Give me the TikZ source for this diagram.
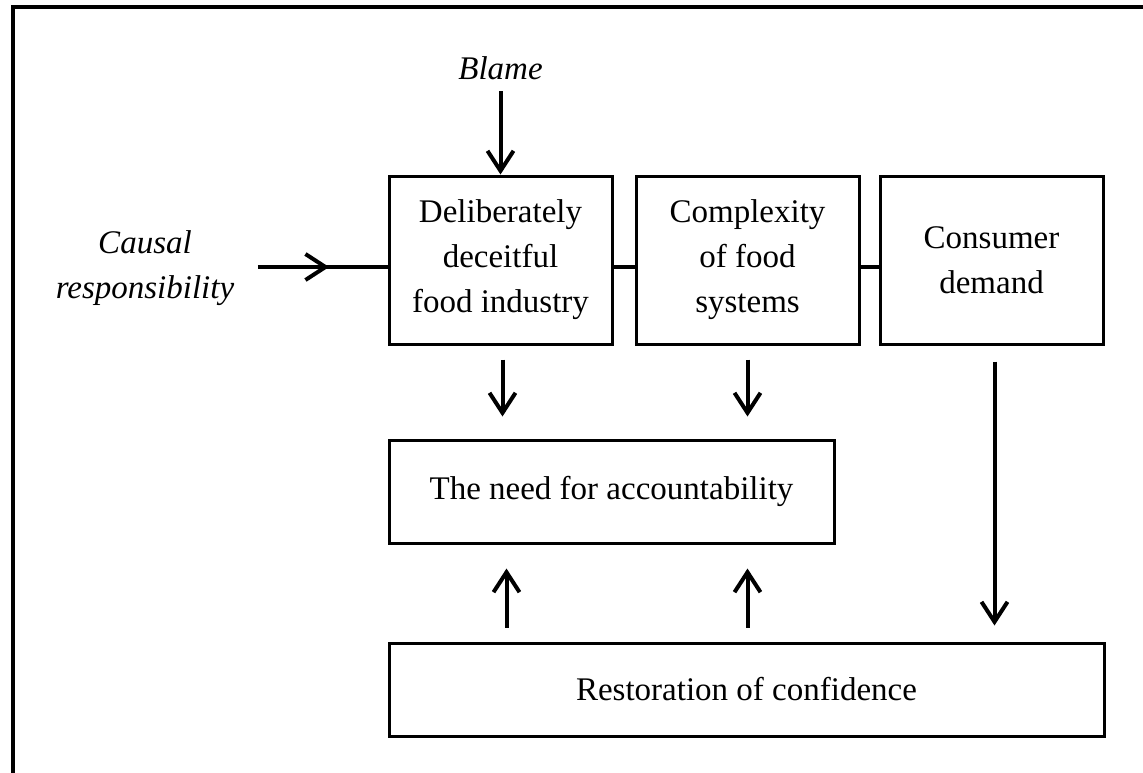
\documentclass[tikz,border=0pt]{standalone}
\usepackage{fontspec}
\setmainfont{Liberation Serif}
\usetikzlibrary{arrows.meta,decorations.markings}

\begin{document}
\begin{tikzpicture}[x=1pt,y=-1pt,
    stage/.style={draw,line width=3pt,align=center,font=\fontsize{33}{45}\selectfont},
    lbl/.style={align=center,font=\fontsize{33}{45}\selectfont\itshape},
    arr/.style={line width=4pt,-{Straight Barb[length=20pt,width=26pt]}}]
      \useasboundingbox (0,0) rectangle (1143,772);
      \draw[line width=4pt] (13,7) rectangle (1175,805);
      \node[stage,minimum width=223pt,minimum height=168pt] (deceit) at (500.5,260) {Deliberately\\deceitful\\food industry};
      \node[stage,minimum width=223pt,minimum height=168pt] (complex) at (747.5,260) {Complexity\\of food\\systems};
      \node[stage,minimum width=223pt,minimum height=168pt] (consumer) at (991.5,260) {Consumer\\demand};
      \node[stage,minimum width=445pt,minimum height=103pt] (need) at (611.5,491.5) {The need for accountability};
      \node[stage,minimum width=715pt,minimum height=93pt] (restore) at (746.5,689.5) {Restoration of confidence};
      \node[lbl] (blame) at (500.5,68) {Blame};
      \node[lbl] (causal) at (145,268) {Causal\\responsibility};
      \draw[arr,shorten <=8pt] (blame.south) -- (deceit.north);
      \draw[line width=4pt,postaction={decorate},
        decoration={markings,mark=at position 0.55 with {\arrow{Straight Barb[length=20pt,width=26pt]}}}]
        ([xshift=20pt,yshift=1pt]causal.east) -- ([yshift=-7pt]deceit.west);
      \draw[line width=4pt] ([yshift=-7pt]deceit.east) -- ([yshift=-7pt]complex.west);
      \draw[line width=4pt] ([yshift=-7pt]complex.east) -- ([yshift=-7pt]consumer.west);
      \draw[arr,shorten <=14pt,shorten >=22pt] ([xshift=2pt]deceit.south) -- ([xshift=2pt]deceit.south |- need.north);
      \draw[arr,shorten <=14pt,shorten >=22pt] (complex.south) -- (complex.south |- need.north);
      \draw[arr,shorten <=16pt,shorten >=16pt] ([xshift=3pt]consumer.south) -- ([xshift=3pt]consumer.south |- restore.north);
      \draw[arr,shorten <=14pt,shorten >=24pt] ([xshift=6pt]restore.north -| deceit.south) -- ([xshift=6pt]need.south -| deceit.south);
      \draw[arr,shorten <=14pt,shorten >=24pt] (restore.north -| complex.south) -- (need.south -| complex.south);
    \end{tikzpicture}
\end{document}
